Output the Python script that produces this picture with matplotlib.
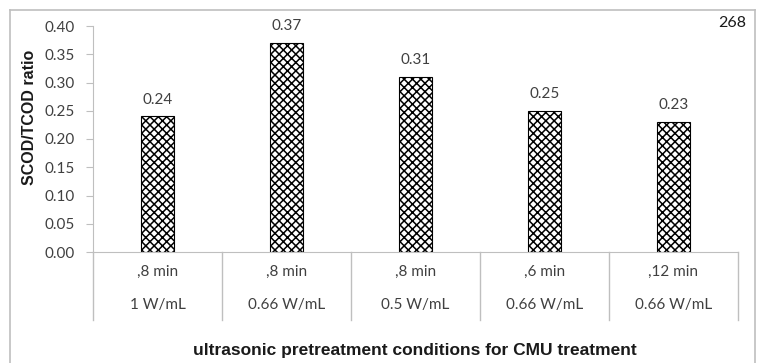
import matplotlib
matplotlib.use("Agg")
import matplotlib.pyplot as plt
import matplotlib.transforms as mtransforms

# Data
time_labels = [",8 min", ",8 min", ",8 min", ",6 min", ",12 min"]
power_labels = ["1 W/mL", "0.66 W/mL", "0.5 W/mL", "0.66 W/mL", "0.66 W/mL"]
ratios = [0.24, 0.37, 0.31, 0.25, 0.23]
value_labels = ["0.24", "0.37", "0.31", "0.25", "0.23"]
yticks = [0.00, 0.05, 0.10, 0.15, 0.20, 0.25, 0.30, 0.35, 0.40]

W, H = 759, 363
fig = plt.figure(figsize=(W / 100, H / 100), dpi=100)
plt.rcParams['hatch.linewidth'] = 1.1

def px(x0, y0, x1, y1):
    return [x0 / W, 1 - y1 / H, (x1 - x0) / W, (y1 - y0) / H]

# outer chart border (top, left, right only)
grey = "#BFBFBF"
fig.add_artist(plt.Line2D([10 / W, 10 / W], [0, 1 - 10 / H], color=grey, lw=1.2, transform=fig.transFigure))
fig.add_artist(plt.Line2D([10 / W, 755 / W], [1 - 10 / H, 1 - 10 / H], color=grey, lw=1.2, transform=fig.transFigure))
fig.add_artist(plt.Line2D([755 / W, 755 / W], [1 - 10 / H, 0], color=grey, lw=1.2, transform=fig.transFigure))

ax = fig.add_axes(px(93, 26, 738, 252))
n = len(ratios)
xs = list(range(n))
ax.bar(xs, ratios, width=0.26, color="white", edgecolor="black", hatch="xxxx", linewidth=0.8, zorder=2)
ax.set_xlim(-0.5, n - 0.5)
ax.set_ylim(0, 0.40)

txtfont = "Lato"
tcol = "#404040"
fs = 11
for x, v, lab in zip(xs, ratios, value_labels):
    ax.annotate(lab, (x, v), xytext=(0, 7), textcoords="offset points", ha="center", va="bottom",
                fontsize=fs, family=txtfont, color=tcol)

ax.set_yticks(yticks)
ax.set_yticklabels([f"{t:.2f}" for t in yticks], fontsize=fs, family=txtfont, color=tcol)
ax.tick_params(axis="y", length=5, color=grey, pad=8)
ax.set_xticks([])
for s in ["top", "right"]:
    ax.spines[s].set_visible(False)
ax.spines["left"].set_color(grey)
ax.spines["bottom"].set_color(grey)
ax.spines["left"].set_bounds(0, 0.40)

# category table
depth = (320 - 252) / (252 - 26)
trans = mtransforms.blended_transform_factory(ax.transData, ax.transAxes)
for i in range(n + 1):
    ax.plot([i - 0.5, i - 0.5], [0, -depth], color=grey, lw=1, transform=trans, clip_on=False)
r1 = -(272 - 252) / (252 - 26)
r2 = -(305 - 252) / (252 - 26)
for x, t, p in zip(xs, time_labels, power_labels):
    ax.text(x, r1, t, transform=trans, ha="center", va="center", fontsize=fs, family=txtfont, color=tcol)
    ax.text(x, r2, p, transform=trans, ha="center", va="center", fontsize=fs, family=txtfont, color=tcol)

fig.text(415 / W, 1 - 350 / H, "ultrasonic pretreatment conditions for CMU treatment",
         ha="center", va="center", fontsize=12.5, fontweight="bold", family="Liberation Sans", color="#1a1a1a")
fig.text(30 / W, 1 - 117 / H, "SCOD/TCOD ratio", rotation=90, ha="center", va="center",
         fontsize=11.5, fontweight="bold", family="Liberation Sans", color="#1a1a1a")
fig.text(732 / W, 1 - 23 / H, "268", ha="center", va="center", fontsize=11.5, family=txtfont, color="#1a1a1a")

fig.savefig("out.png", dpi=100)
